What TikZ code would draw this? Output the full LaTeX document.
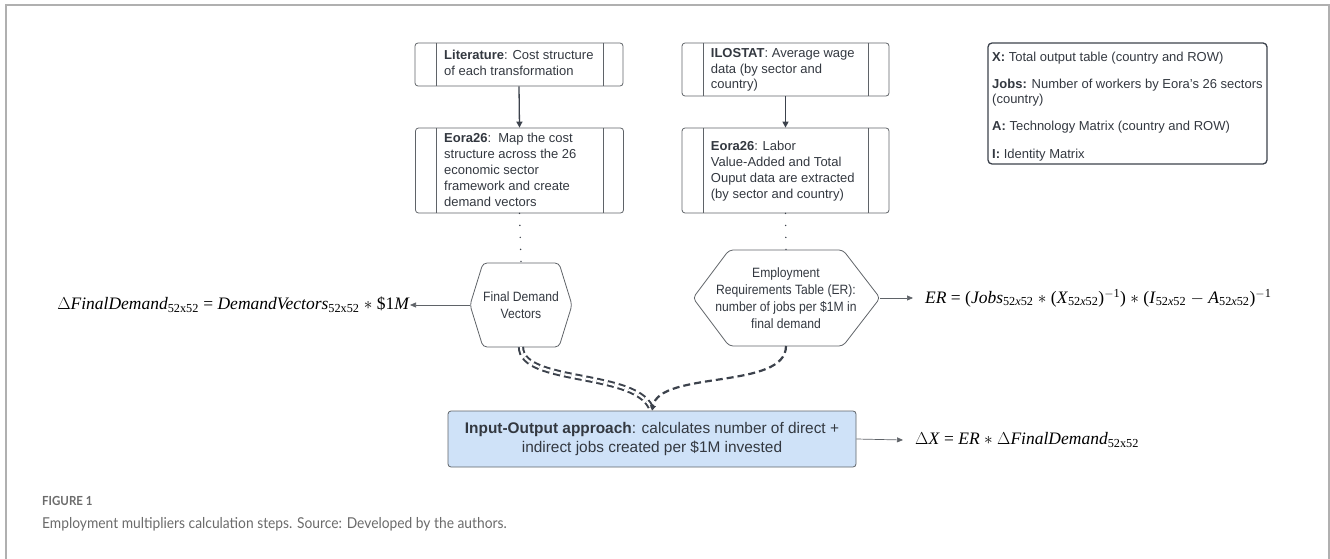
\documentclass[tikz,border=0pt]{standalone}
\usepackage{fontspec}
\setmainfont{Liberation Sans}
\newfontfamily\tms{Liberation Serif}
\newfontfamily\narrowf[FakeStretch=0.9]{Liberation Sans}
\newfontfamily\capf[FakeStretch=0.92]{Lato}
\usetikzlibrary{arrows.meta}
\definecolor{edgec}{HTML}{5F6368}
\definecolor{txtc}{HTML}{333840}
\definecolor{dashc}{HTML}{3C424C}
\definecolor{iofill}{HTML}{CFE2F8}
\definecolor{capc}{HTML}{6B6B6B}
\definecolor{framec}{HTML}{B0B0B0}
\tikzset{
  procbox/.style={draw=edgec, rounded corners=3pt, line width=0.8pt, minimum width=208pt, inner sep=0pt},
  boxtext/.style={anchor=base west, inner sep=0pt, text=txtc, align=left, font=\fontsize{13}{15.8}\selectfont},
  hexshape/.style={draw=edgec, line width=0.8pt, rounded corners=4pt},
  hextext/.style={inner sep=0pt, text=txtc, align=center, font=\narrowf\fontsize{13.5}{17}\selectfont},
  solidarrow/.style={draw=dashc, line width=1.3pt, -{Triangle[length=6pt,width=6pt]}},
  thinarrow/.style={draw=edgec, line width=0.7pt, -{Triangle[length=6pt,width=5pt]}},
  dotline/.style={draw=dashc, line width=1.6pt, line cap=round, dash pattern=on 0pt off 12pt},
  dashline/.style={draw=dashc, line width=2.2pt, dash pattern=on 7pt off 4pt},
  formula/.style={inner sep=0pt, font=\tms\fontsize{17.5}{20}\selectfont, text=black},
  legtext/.style={anchor=base west, inner sep=0pt, text=txtc, align=left, font=\fontsize{13}{15}\selectfont}
}
\newcommand{\sbx}[1]{\textsubscript{#1}}
\begin{document}
\begin{tikzpicture}[x=1pt,y=-1pt]
\useasboundingbox (0,0) rectangle (1330,559);
\draw[framec, line width=1.3pt] (6,559) -- (6,5) -- (1329,5) -- (1329,559);

% left column
\node[procbox, minimum height=43pt] (lit) at (519,64.5) {};
\draw[edgec, line width=0.8pt] (436,43) -- (436,86) (603,43) -- (603,86);
\node[boxtext] (litt) at (444,75.5) {\textbf{Literature}: Cost structure\\of each transformation};

\node[procbox, minimum height=85pt] (eol) at (519.5,170.5) {};
\draw[edgec, line width=0.8pt] (436,128) -- (436,213) (603,128) -- (603,213);
\node[boxtext] (eolt) at (444,206) {\textbf{Eora26}:\ \ Map the cost\\structure across the 26\\economic sector\\framework and create\\demand vectors};

% middle column
\node[procbox, minimum width=207pt, minimum height=53pt] (ilo) at (785.5,69.5) {};
\draw[edgec, line width=0.8pt] (703,43) -- (703,96) (868,43) -- (868,96);
\node[boxtext] (ilot) at (710.7,89) {\textbf{ILOSTAT}: Average wage\\data (by sector and\\country)};

\node[procbox, minimum width=207pt, minimum height=85pt] (eor) at (785.5,170.5) {};
\draw[edgec, line width=0.8pt] (703,128) -- (703,213) (868,128) -- (868,213);
\node[boxtext] (eort) at (710.7,198) {\textbf{Eora26}: Labor\\Value-Added and Total\\Ouput data are extracted\\(by sector and country)};

\draw[solidarrow] (lit.south) -- (eol.north);
\draw[solidarrow] (ilo.south) -- (eor.north);

% legend
\node[draw=dashc, line width=1.3pt, rounded corners=4pt, minimum width=279pt, minimum height=121pt, inner sep=0pt] (leg) at (1127.5,103.5) {};
\node[legtext] (leg1) at (992,61.5) {\textbf{X:} Total output table (country and ROW)};
\node[legtext] (leg2) at (992,103.5) {\textbf{Jobs:} Number of workers by Eora's 26 sectors\\(country)};
\node[legtext] (leg3) at (992,131) {\textbf{A:} Technology Matrix (country and ROW)};
\node[legtext] (leg4) at (992,158) {\textbf{I:} Identity Matrix};

% hexagons
\coordinate (fdT) at (521,263);
\coordinate (fdB) at (521,347);
\coordinate (fdL) at (470,305);
\coordinate (fdR) at (572,305);
\draw[hexshape] (483,263) -- (559,263) -- (fdR) -- (559,347) -- (483,347) -- (fdL) -- cycle;
\node[hextext] (fdt) at (521,305) {Final Demand\\Vectors};

\coordinate (erT) at (786,250);
\coordinate (erB) at (786,346);
\coordinate (erL) at (693,298);
\coordinate (erR) at (880,298);
\draw[hexshape] (729,250) -- (843,250) -- (erR) -- (843,346) -- (729,346) -- (erL) -- cycle;
\node[hextext] (ert) at (786,298) {Employment\\Requirements Table (ER):\\number of jobs per \$1M in\\final demand};

\draw[dotline] (eol.south) -- (fdT);
\draw[dotline] (eor.south) -- (erT);

% formulas
\node[formula, anchor=east] (f1) at (410,305) {$\Delta$\textit{FinalDemand}\sbx{52x52} = \textit{DemandVectors}\sbx{52x52} $*$ \$1\textit{M}};
\node[formula, anchor=west] (f2) at (925,298) {\textit{ER} = (\textit{Jobs}\sbx{52\textit{x}52} $*$ (\textit{X}\sbx{52\textit{x}52})\textsuperscript{$-$1}) $*$ (\textit{I}\sbx{52\textit{x}52} $-$ \textit{A}\sbx{52\textit{x}52})\textsuperscript{$-$1}};

\draw[thinarrow] (erR) -- ([xshift=-12pt]f2.west);
\draw[thinarrow] (fdL) -- (f1.east);

% input-output box
\node[draw=edgec, fill=iofill, line width=0.8pt, rounded corners=3pt, minimum width=408pt, minimum height=56pt, inner sep=0pt, align=center, text=txtc, font=\fontsize{15.4}{18.5}\selectfont] (io) at (652,439) {\textbf{Input-Output approach}: calculates number of direct +\\indirect jobs created per \$1M invested};

\node[formula, anchor=west] (f3) at (915,440) {$\Delta$\textit{X} = \textit{ER} $*$ $\Delta$\textit{FinalDemand}\sbx{52x52}};
\draw[thinarrow] (io.east) -- ([xshift=-12pt]f3.west);

% dashed connectors
\draw[dashline, double=white, double distance=2.2pt, line width=2pt] (fdB) .. controls (521,385) and (640,370) .. (io.north);
\draw[dashline, -{Triangle[length=5pt,width=6pt]}] (erB) .. controls (786,390) and (660,370) .. (io.north);

% caption
\node[anchor=base west, inner sep=0pt, text=capc, font=\capf\bfseries\fontsize{12.5}{14}\selectfont] (figl) at (42,505) {FIGURE 1};
\node[anchor=base west, inner sep=0pt, text=capc, font=\capf\fontsize{15}{18}\selectfont] (cap) at (42,528) {Employment multipliers calculation steps. Source: Developed by the authors.};
\end{tikzpicture}
\end{document}
